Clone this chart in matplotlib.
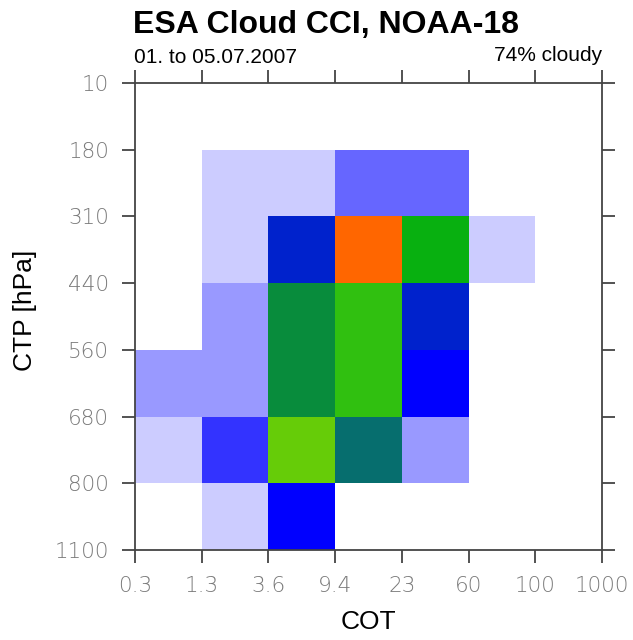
import numpy as np
import matplotlib
matplotlib.use("Agg")
import matplotlib.pyplot as plt
from matplotlib.colors import ListedColormap, BoundaryNorm

# bin edges
cot_edges = ["0.3", "1.3", "3.6", "9.4", "23", "60", "100", "1000"]
ctp_edges = ["10", "180", "310", "440", "560", "680", "800", "1100"]

# relative frequency [%] per (CTP row, COT column); rows from 10 hPa down to 1100 hPa
freq = np.array([
    [0.0, 0.0, 0.0, 0.0, 0.0, 0.0, 0.0],
    [0.0, 0.3, 0.3, 1.2, 1.2, 0.0, 0.0],
    [0.0, 0.3, 2.7, 6.7, 4.2, 0.3, 0.0],
    [0.0, 0.7, 3.7, 4.7, 2.7, 0.0, 0.0],
    [0.7, 0.7, 3.7, 4.7, 2.2, 0.0, 0.0],
    [0.3, 1.7, 5.2, 3.2, 0.7, 0.0, 0.0],
    [0.0, 0.3, 2.2, 0.0, 0.0, 0.0, 0.0],
])

level_bounds = [0.1, 0.5, 1.0, 1.5, 2.0, 2.5, 3.0, 3.5, 4.0, 4.5, 5.0, 5.5, 6.0, 6.5, 7.0, 8.0]
level_colors = ["#CCCCFF", "#9999FF", "#6666FF", "#3333FF", "#0000FF", "#0022CC",
                "#066E6E", "#088C3C", "#08B010", "#30C010", "#66CC08", "#CCDD00",
                "#FFCC00", "#FF6600", "#FF0000"]

title = "ESA Cloud CCI, NOAA-18"
left_sub = "01. to 05.07.2007"
right_sub = "74% cloudy"

fig = plt.figure(figsize=(6.33, 6.40), dpi=100)
ax = fig.add_axes([135/633, 1-550/640, (602-135)/633, (550-83)/640])

cmap = ListedColormap(level_colors)
norm = BoundaryNorm(level_bounds, cmap.N)
data = np.ma.masked_less(freq, level_bounds[0])
x = np.arange(len(cot_edges))
y = np.arange(len(ctp_edges))
ax.pcolormesh(x, y, data, cmap=cmap, norm=norm)
ax.set_xlim(x[0], x[-1])
ax.set_ylim(y[-1], y[0])

ax.set_xticks(x)
ax.set_xticklabels(cot_edges)
ax.set_yticks(y)
ax.set_yticklabels(ctp_edges)

for lab in ax.get_xticklabels() + ax.get_yticklabels():
    lab.set_fontfamily("DejaVu Sans")
    lab.set_fontweight("light")
    lab.set_fontsize(15.5)
    lab.set_color("#7a7a7a")

ax.tick_params(direction="out", length=9.5, width=1.3, color="#444444",
               top=True, right=True)
ax.tick_params(axis="y", pad=9)
ax.tick_params(axis="x", pad=9)
for s in ax.spines.values():
    s.set_color("#444444")
    s.set_linewidth(1.3)

ax.set_xlabel("COT", family="Liberation Sans", fontsize=19)
ax.set_ylabel("CTP [hPa]", family="Liberation Sans", fontsize=19)
ax.xaxis.set_label_coords(0.5, (550-610)/467)
ax.yaxis.set_label_coords((37-135)/467, (550-310)/467)

fig.text(133/633, 1-33/640, title, family="Liberation Sans", weight="bold",
         fontsize=23, ha="left", va="baseline")
fig.text(134/633, 1-63/640, left_sub, family="Liberation Sans", fontsize=15,
         ha="left", va="baseline")
fig.text(602/633, 1-61/640, right_sub, family="Liberation Sans", fontsize=15,
         ha="right", va="baseline")

fig.savefig("out.png", dpi=100)
